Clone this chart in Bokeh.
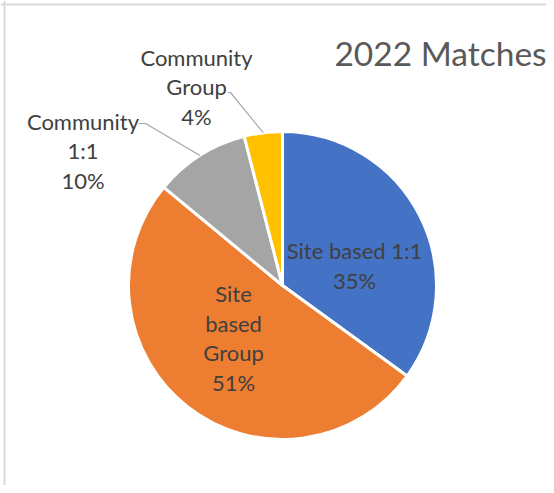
import numpy as np
from bokeh.plotting import figure
from bokeh.models import Range1d, Span, ColumnDataSource
from bokeh.core.properties import value
from bokeh.embed import file_html
from bokeh.resources import INLINE

# ---- data ----
categories = ["Site based 1:1", "Site based Group", "Community 1:1", "Community Group"]
percents = [35, 51, 10, 4]
colors = ["#4472C4", "#ED7D31", "#A5A5A5", "#FFC000"]
label_lines = [["Site based 1:1", "35%"],
               ["Site", "based", "Group", "51%"],
               ["Community", "1:1", "10%"],
               ["Community", "Group", "4%"]]
title_text = "2022 Matches"

# ---- layout (figure pixels: x right, y up) ----
W, H = 546, 485
cx, cy, R = 282, 200, 154
label_centers = [(354, 220), (233, 147.5), (82.5, 335), (196, 399)]
leader_starts = [None, None, [(138, 362), (145, 362)], [(227, 393), (230, 393)]]
line_step = 29.5
FONT = "Lato"
FS = "22px"

p = figure(width=W, height=H, output_backend="svg", toolbar_location=None,
           x_range=Range1d(0, W), y_range=Range1d(0, H), min_border=0)
p.axis.visible = False
p.grid.visible = False
p.outline_line_color = None
p.background_fill_color = "white"

# pie wedges, clockwise from 12 o'clock
vals = np.array(percents, dtype=float)
fr = vals / vals.sum()
c1 = np.cumsum(fr)
c0 = c1 - fr
start = np.pi / 2 - 2 * np.pi * c1
end = np.pi / 2 - 2 * np.pi * c0
src = ColumnDataSource(dict(start=start, end=end, color=colors, cat=categories))
p.wedge(x=cx, y=cy, radius=R, start_angle="start", end_angle="end",
        fill_color="color", line_color="white", line_width=3, source=src)

# leader lines
mid = np.pi / 2 - 2 * np.pi * (c0 + c1) / 2
for i, st in enumerate(leader_starts):
    if st is None:
        continue
    ex = cx + R * np.cos(mid[i])
    ey = cy + R * np.sin(mid[i])
    xs = [pt[0] for pt in st] + [ex]
    ys = [pt[1] for pt in st] + [ey]
    p.line(xs, ys, line_color="#A6A6A6", line_width=1.2)

# data labels
tx, ty, tt = [], [], []
for (lx, ly), lines in zip(label_centers, label_lines):
    n = len(lines)
    for k, s in enumerate(lines):
        tx.append(lx)
        ty.append(ly + (n - 1) / 2 * line_step - k * line_step)
        tt.append(s)
p.text(x=tx, y=ty, text=tt, text_align="center", text_baseline="middle",
       text_font=value(FONT), text_font_size=FS, text_color="#404040")

# title
p.text(x=[440], y=[433], text=[title_text], text_align="center", text_baseline="middle",
       text_font=value(FONT), text_font_size="33.5px", text_color="#595959")

# chart-area border (left and top edges visible)
p.add_layout(Span(location=4, dimension="height", line_color="#D9D9D9", line_width=2))
p.add_layout(Span(location=H - 4, dimension="width", line_color="#D9D9D9", line_width=2))

open("out.html", "w").write(file_html(p, INLINE))
